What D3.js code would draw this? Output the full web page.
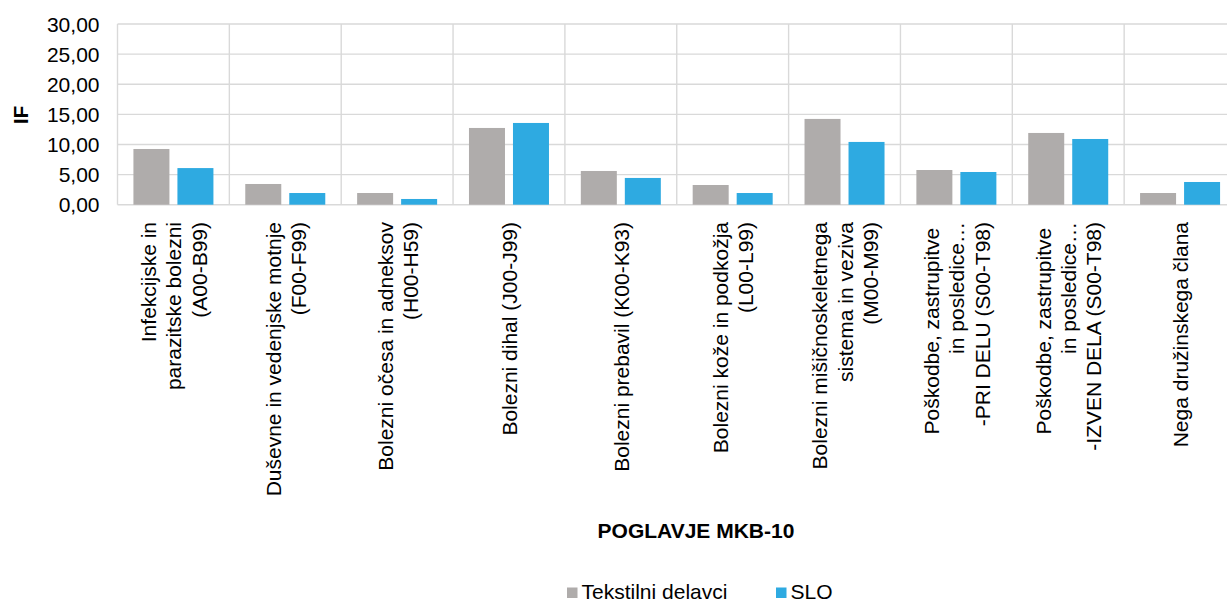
<!DOCTYPE html>
<html>
<head>
<meta charset="utf-8">
<script src="https://cdn.jsdelivr.net/npm/d3@7"></script>
<style>
  html, body { margin: 0; padding: 0; background: #ffffff; }
  svg { display: block; font-family: "Liberation Sans", Arial, sans-serif; }
  .lbl { white-space: pre; }
</style>
</head>
<body>
<svg id="chart" width="1227" height="602"></svg>
<script>
// Chapter labels (one entry per line of the wrapped label)
const categories = [
  ["Infekcijske in", "parazitske bolezni", "(A00-B99)"],
  ["Duševne in vedenjske motnje", "(F00-F99)"],
  ["Bolezni očesa in adneksov", "(H00-H59)"],
  ["Bolezni dihal (J00-J99)"],
  ["Bolezni prebavil (K00-K93)"],
  ["Bolezni kože in podkožja", "(L00-L99)"],
  ["Bolezni mišičnoskeletnega", "sistema in veziva", "(M00-M99)"],
  ["Poškodbe, zastrupitve ", "in posledice…", "-PRI DELU (S00-T98)"],
  ["Poškodbe, zastrupitve ", "in posledice…", "-IZVEN DELA (S00-T98)"],
  ["Nega družinskega člana"]
];
const seriesNames = ["Tekstilni delavci", "SLO"];
const tekstilni = [9.25, 3.44, 1.94, 12.74, 5.60, 3.27, 14.24, 5.76, 11.91, 1.94];
const slo       = [6.08, 1.94, 0.95, 13.57, 4.44, 1.94, 10.42, 5.43, 10.91, 3.77];
const yTicks = [0, 5, 10, 15, 20, 25, 30];
const yTitle = "IF";
const xTitle = "POGLAVJE MKB-10";

const colors = ["#afacab", "#2eaae1"];
const fontSize = 21;

const svg = d3.select("#chart");
const plot = { left: 117.5, right: 1236, top: 24, bottom: 204.7 };

const idx = categories.map((d, i) => i);
const x0 = d3.scaleBand().domain(idx).range([plot.left, plot.right]).padding(0);
const bw = x0.bandwidth();
const groupW = 80;
const x1 = d3.scaleBand().domain([0, 1])
  .range([(bw - groupW) / 2, (bw + groupW) / 2])
  .paddingInner(8 / 44);
const y = d3.scaleLinear().domain([0, 30]).range([plot.bottom, plot.top]);

const sl = d3.formatLocale({ decimal: ",", thousands: ".", grouping: [3], currency: ["", "€"] });
const fmt = sl.format(".2f");

// Grid
const grid = svg.append("g").attr("stroke", "#d9d9d9").attr("stroke-width", 1.4);
grid.selectAll("line.h").data(yTicks).join("line")
  .attr("x1", plot.left).attr("x2", plot.right)
  .attr("y1", d => y(d)).attr("y2", d => y(d));
grid.selectAll("line.v").data(idx).join("line")
  .attr("x1", d => x0(d)).attr("x2", d => x0(d))
  .attr("y1", plot.top).attr("y2", plot.bottom);

// Y axis tick labels
svg.append("g").selectAll("text").data(yTicks).join("text")
  .attr("x", 99.5).attr("y", d => y(d)).attr("dy", "0.36em")
  .attr("text-anchor", "end").attr("font-size", fontSize).attr("fill", "#000")
  .text(d => fmt(d));

// Bars
const series = [tekstilni, slo];
const groups = svg.append("g").selectAll("g").data(idx).join("g")
  .attr("transform", d => `translate(${x0(d)},0)`);
groups.selectAll("rect").data(i => series.map((s, k) => ({ k, v: s[i] }))).join("rect")
  .attr("x", d => x1(d.k)).attr("width", x1.bandwidth())
  .attr("y", d => y(d.v)).attr("height", d => y(0) - y(d.v))
  .attr("fill", d => colors[d.k]);

// Category labels, rotated
const lh = fontSize * 1.2;
const catG = svg.append("g").selectAll("g").data(idx).join("g")
  .attr("transform", d => `translate(${x0(d) + bw / 2},222) rotate(-90)`);
catG.each(function (i) {
  const lines = categories[i];
  const n = lines.length;
  const t = d3.select(this).append("text").attr("class", "lbl")
    .attr("text-anchor", "end").attr("font-size", fontSize).attr("fill", "#000");
  lines.forEach((line, j) => {
    const ty = (j - (n - 1) / 2) * lh + fontSize * 0.38;
    t.append("tspan").attr("x", 0).attr("y", ty).text(line);
  });
});

// Axis titles
svg.append("text")
  .attr("transform", "translate(28,115) rotate(-90)")
  .attr("text-anchor", "middle").attr("font-size", fontSize).attr("font-weight", "bold")
  .text(yTitle);
svg.append("text")
  .attr("x", 696).attr("y", 538)
  .attr("text-anchor", "middle").attr("font-size", fontSize).attr("font-weight", "bold")
  .text(xTitle);

// Legend
const legendX = [567, 776];
const leg = svg.append("g").selectAll("g").data(seriesNames).join("g")
  .attr("transform", (d, i) => `translate(${legendX[i]},0)`);
leg.append("rect").attr("x", 0).attr("y", 587.5).attr("width", 10.5).attr("height", 10.5)
  .attr("fill", (d, i) => colors[i]);
leg.append("text").attr("x", 14.5).attr("y", 599).attr("font-size", fontSize)
  .attr("fill", "#000").text(d => d);
</script>
</body>
</html>
